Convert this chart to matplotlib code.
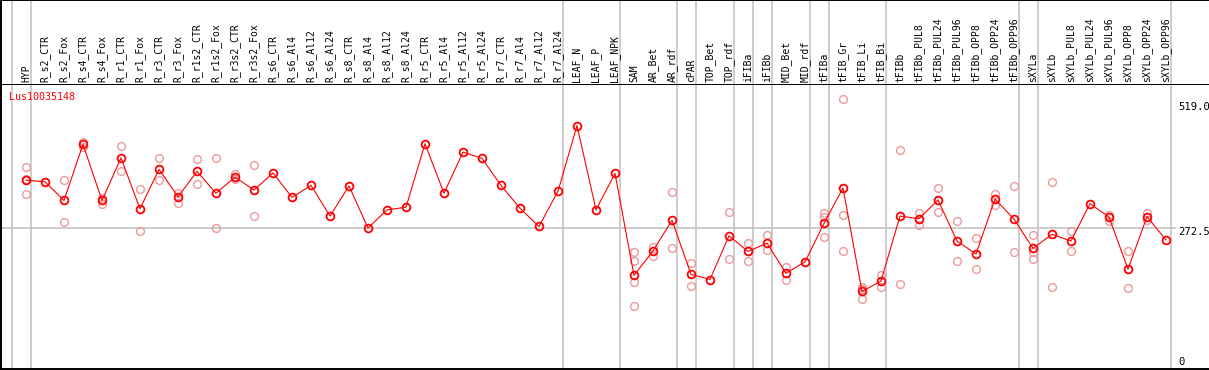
import matplotlib
matplotlib.use("Agg")
import matplotlib.pyplot as plt
import matplotlib.transforms as mtransforms

# categories along the x axis
samples = ["HYP", "R_s2_CTR", "R_s2_Fox", "R_s4_CTR", "R_s4_Fox", "R_r1_CTR", "R_r1_Fox",
           "R_r3_CTR", "R_r3_Fox", "R_r1s2_CTR", "R_r1s2_Fox", "R_r3s2_CTR", "R_r3s2_Fox",
           "R_s6_CTR", "R_s6_Al4", "R_s6_Al12", "R_s6_Al24", "R_s8_CTR", "R_s8_Al4",
           "R_s8_Al12", "R_s8_Al24", "R_r5_CTR", "R_r5_Al4", "R_r5_Al12", "R_r5_Al24",
           "R_r7_CTR", "R_r7_Al4", "R_r7_Al12", "R_r7_Al24", "LEAF_N", "LEAF_P", "LEAF_NPK",
           "SAM", "AR_Bet", "AR_rdf", "cPAR", "TOP_Bet", "TOP_rdf", "iFIBa", "iFIBb",
           "MID_Bet", "MID_rdf", "tFIBa", "tFIB_Gr", "tFIB_Li", "tFIB_Bi", "tFIBb",
           "tFIBb_PUL8", "tFIBb_PUL24", "tFIBb_PUL96", "tFIBb_OPP8", "tFIBb_OPP24",
           "tFIBb_OPP96", "sXYLa", "sXYLb", "sXYLb_PUL8", "sXYLb_PUL24", "sXYLb_PUL96",
           "sXYLb_OPP8", "sXYLb_OPP24", "sXYLb_OPP96"]

# mean expression per sample
means = [365, 362, 326, 434, 326, 408, 310, 386, 333, 382, 340, 371, 346, 379, 332, 355,
         296, 354, 273, 308, 313, 435, 340, 419, 407, 355, 311, 276, 344, 470, 308, 378,
         182, 229, 288, 184, 174, 258, 228, 244, 186, 208, 282, 350, 151, 171, 296, 291,
         327, 248, 223, 329, 290, 234, 261, 248, 320, 294, 194, 295, 250]

# individual replicates (empty where only the mean is shown)
replicates = [[390, 367, 339], [], [365, 285], [439, 429], [330, 320], [430, 382],
              [349, 268], [407, 365], [341, 321], [405, 358], [407, 274], [376, 367],
              [394, 296], [], [], [], [], [], [], [], [], [], [], [], [], [], [], [], [],
              [], [], [], [226, 210, 169, 124], [237, 219], [342, 234], [205, 162], [],
              [304, 214], [244, 210], [259, 230], [198, 174], [], [302, 294, 255],
              [522, 298, 228], [160, 155, 137], [183, 160], [424, 165], [301, 278],
              [350, 304], [286, 209], [254, 194], [338, 317], [354, 227], [259, 226, 213],
              [361, 159], [267, 228], [], [299, 287], [229, 158], [302, 289], []]

# group separators sit just after these sample indices
group_ends = [-1, 0, 28, 31, 34, 35, 37, 38, 39, 41, 42, 45, 52, 53, 60]

gene = "Lus10035148"
right_labels = ["519.0", "272.5", "0"]
grid_value = 272.5

W, H = 1209, 370
fig = plt.figure(figsize=(W / 100, H / 100), dpi=100)
mono = "DejaVu Sans Mono"
grey = "#c0c0c0"
pink = "#ec9a9a"

x0 = (1 - 26) / 19
x1 = (W - 26) / 19
xs = list(range(len(samples)))

head = fig.add_axes([1 / W, 1 - 85 / H, 1 - 1 / W, 85 / H])
ax = fig.add_axes([1 / W, 1 / H, 1 - 1 / W, 284 / H])

for a in (head, ax):
    a.set_xlim(x0, x1)
    a.set_xticks([])
    a.set_yticks([])
    a.spines["right"].set_visible(False)
    for s in ("left", "top", "bottom"):
        a.spines[s].set_linewidth(1.4)
        a.spines[s].set_color("black")
    for g in group_ends:
        a.axvline(g + 0.237, color=grey, lw=1.1, zorder=0)
ax.spines["top"].set_visible(False)
head.set_ylim(0, 1)

# sample names
trans = mtransforms.blended_transform_factory(head.transData, head.transAxes)
for i, name in enumerate(samples):
    head.text(i, 2.5 / 85, name, rotation=90, ha="center", va="bottom",
              fontsize=7.0, family=mono, transform=trans)

ax.set_ylim((370 - 369) / 0.52, (370 - 85) / 0.52)
ax.axhline(grid_value, xmax=1175 / W, color=grey, lw=1.1, zorder=0)

for i, reps in enumerate(replicates):
    if reps:
        ax.plot([i] * len(reps), reps, "o", ms=5.6, mfc="none", mec=pink, mew=1.0, zorder=2)

ax.plot(xs, means, "-", color="red", lw=0.8, zorder=3)
ax.plot(xs, means, "o", ms=5.6, mfc="none", mec="red", mew=1.3, zorder=4)

fig.text(9.5 / W, 1 - 97 / H, gene, color="red", fontsize=7.2, family=mono,
         ha="left", va="center")
for lab, py in zip(right_labels, [107, 232, 362]):
    fig.text(1178 / W, 1 - py / H, lab, fontsize=7.6, family=mono, ha="left", va="center")

fig.savefig("out.png", dpi=100)
